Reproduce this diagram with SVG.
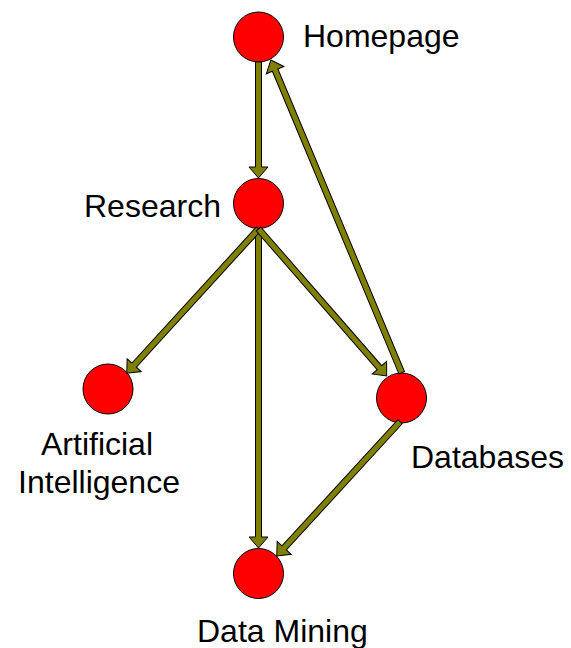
<svg xmlns="http://www.w3.org/2000/svg" width="571" height="648" viewBox="0 0 571 648">
<style>
.node circle{fill:#ff0000;stroke:#000;stroke-width:1}
.arrow{fill:#808000;stroke:#000;stroke-width:1;stroke-linejoin:miter}
text{font-family:"Liberation Sans",Arial,sans-serif;font-size:32px;fill:#000}
</style>
<rect width="571" height="648" fill="#fff"/>
<g id="node-homepage" class="node"><circle cx="258.5" cy="37" r="25"/><text x="303" y="47">Homepage</text></g>
<g id="node-research" class="node"><circle cx="258.5" cy="203.5" r="25"/><text x="84" y="217">Research</text></g>
<g id="node-ai" class="node"><circle cx="108" cy="389" r="25"/><text x="97" y="455" text-anchor="middle">Artificial</text><text x="99" y="493" text-anchor="middle">Intelligence</text></g>
<g id="node-databases" class="node"><circle cx="401.5" cy="398" r="25"/><text x="411" y="468">Databases</text></g>
<g id="node-datamining" class="node"><circle cx="258.5" cy="573.5" r="25"/><text x="197" y="642">Data Mining</text></g>
<g id="connectors">
<polygon class="arrow" transform="translate(258.5,62) rotate(90)" points="0,-3 105,-3 105,-9.5 116,0 105,9.5 105,3 0,3"/>
<polygon class="arrow" transform="translate(258.5,229) rotate(90)" points="0,-3 308,-3 308,-9.5 319,0 308,9.5 308,3 0,3"/>
<polygon class="arrow" transform="translate(258.5,229) rotate(132.4)" points="0,-3 184.4,-3 184.4,-9.5 195.4,0 184.4,9.5 184.4,3 0,3"/>
<polygon class="arrow" transform="translate(258.5,229) rotate(48.9)" points="0,-3 184,-3 184,-9.5 195,0 184,9.5 184,3 0,3"/>
<polygon class="arrow" transform="translate(401.7,372.7) rotate(-112.7)" points="0,-3 328,-3 328,-9.5 339,0 328,9.5 328,3 0,3"/>
<polygon class="arrow" transform="translate(400,421.7) rotate(132.55)" points="0,-3 171.3,-3 171.3,-9.5 182.3,0 171.3,9.5 171.3,3 0,3"/>
</g>
</svg>
